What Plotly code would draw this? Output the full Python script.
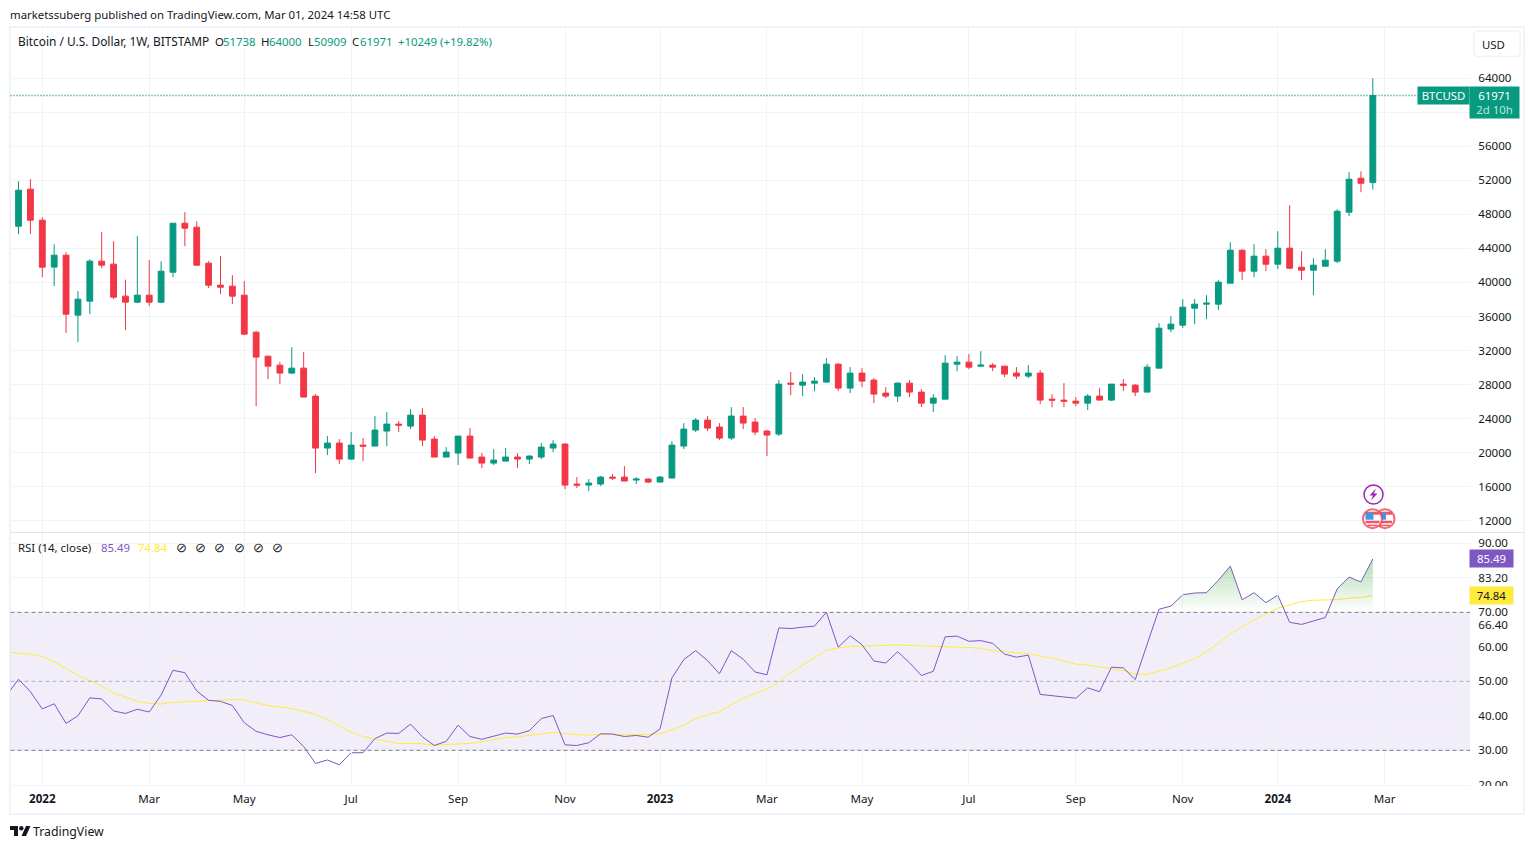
import pandas as pd
import plotly.graph_objects as go

W, H = 1534, 849
FONT = "Noto Sans"
FONT_SIZE = 11.4
TEXT = "#131722"
UP = "#089981"
DOWN = "#F23645"
GRID = "#F0F3FA"
RSI_COL = "#7E57C2"
MA_COL = "#FFEB3B"

# weekly candles, first one is clipped by the left edge
weeks = pd.date_range("2021-12-13", periods=116, freq="7D")

opens = [50100, 46610, 50960, 47315, 41800, 43200, 36150, 37800, 42500, 42145, 38385, 37680,
         38500, 37680, 41200, 46960, 46490, 42265, 39680, 39560, 38500, 34155, 31335, 30275,
         29340, 29925, 26635, 20525, 21110, 19230, 20875, 20760, 22525, 23345, 23110, 24400,
         21580, 19470, 19940, 21935, 19470, 18760, 18995, 19470, 19230, 19470, 20525, 20995,
         16295, 16175, 16295, 17115, 17115, 16765, 16880, 16530, 17000, 20760, 22640, 23815,
         22995, 21700, 24285, 23580, 22525, 22170, 28160, 27925, 28160, 28280, 30395, 27575,
         29340, 28515, 26990, 26635, 28160, 27105, 25810, 26280, 30395, 30630, 30160, 30275,
         30160, 29340, 28985, 29340, 26280, 26165, 26045, 25810, 26635, 26165, 28045, 27925,
         27105, 29925, 34510, 34975, 36975, 37445, 37445, 39910, 43790, 41320, 43085, 42145,
         44025, 41790, 41440, 41910, 42500, 48255, 52250, 51738]
highs = [50100, 51897, 52130, 47670, 44490, 43555, 38970, 42730, 45905, 44850, 40320, 45435,
         42615, 42500, 46960, 48255, 47200, 42500, 43085, 40850, 40150, 34280, 31335, 30630,
         32390, 31800, 26870, 21935, 21580, 22405, 21700, 24285, 24755, 23700, 25110, 25225,
         21935, 20640, 21935, 22875, 19940, 20405, 20525, 19940, 19700, 21110, 21465, 21110,
         17115, 16880, 17235, 17470, 18410, 17115, 17000, 17235, 21350, 23465, 24050, 24285,
         23465, 25340, 25340, 24050, 22640, 28515, 29460, 29220, 28870, 31100, 30510, 30040,
         29925, 28750, 27690, 28280, 28515, 27455, 26870, 31450, 31335, 31570, 31925, 30510,
         30160, 30040, 30275, 29690, 26870, 28160, 26520, 26870, 27575, 28045, 28630, 28045,
         30395, 35215, 36035, 38030, 38030, 38500, 40265, 44730, 43910, 44490, 43910, 46020,
         49080, 43675, 42850, 43910, 48610, 52955, 53070, 64000]
lows = [46560, 45670, 45670, 40620, 39560, 34070, 32980, 36270, 41675, 38030, 34390, 37560,
        37210, 37560, 40620, 44260, 41910, 39325, 38620, 37445, 33800, 25460, 28630, 28045,
        29220, 26520, 17590, 19700, 18645, 19115, 18995, 20760, 20760, 22405, 22760, 20760,
        19470, 19470, 18530, 19350, 18175, 18530, 18995, 18175, 18645, 19230, 20055, 15700,
        15825, 15475, 16060, 16765, 16650, 16295, 16410, 16530, 17000, 20405, 22405, 22525,
        21465, 21465, 22760, 22055, 19585, 21935, 26750, 26635, 27220, 28280, 27220, 26990,
        27690, 25810, 26400, 25930, 26520, 25340, 24755, 26280, 29570, 29805, 30040, 29570,
        28870, 28630, 28750, 25695, 25340, 25340, 25460, 24990, 26165, 26045, 27220, 26635,
        27105, 29925, 34155, 34625, 35095, 35680, 36740, 39910, 40265, 40620, 41320, 41560,
        41560, 40265, 38500, 41910, 42265, 47785, 50605, 50909]
closes = [46610, 50840, 47315, 41790, 43200, 36270, 38030, 42500, 42030, 38270, 37680, 38500,
          37680, 41320, 46960, 46375, 42030, 39680, 39440, 38385, 33920, 31220, 30160, 29340,
          29925, 26520, 20525, 21110, 19230, 20875, 20760, 22640, 23345, 23230, 24400, 21465,
          19470, 20055, 21935, 19350, 18760, 19115, 19470, 19230, 19585, 20640, 20995, 16175,
          16175, 16410, 17115, 17000, 16650, 16880, 16530, 17115, 20875, 22760, 23815, 22875,
          21700, 24285, 23465, 22405, 22055, 28045, 28045, 28280, 28400, 30395, 27575, 29340,
          28400, 26870, 26635, 28160, 27105, 25810, 26400, 30510, 30630, 30040, 30275, 30040,
          29220, 28985, 29340, 26165, 26165, 26045, 25810, 26635, 26165, 28045, 27925, 27105,
          30040, 34625, 35095, 37090, 37445, 37560, 40030, 43790, 41320, 43085, 42145, 44025,
          41675, 41440, 42030, 42615, 48370, 52130, 51660, 61971]
change_text = "+10249 (+19.82%)"

rsi = [46.0, 50.6, 47.0, 42.0, 43.5, 37.8, 40.0, 45.2, 44.9, 41.4, 40.7, 41.9, 41.1, 46.0, 53.2,
       52.5, 47.2, 44.5, 44.2, 43.0, 38.0, 35.5, 34.5, 33.7, 34.5, 31.1, 26.2, 27.2, 25.8, 29.3,
       29.3, 33.4, 35.0, 34.9, 37.6, 33.9, 31.4, 32.6, 37.3, 34.0, 33.2, 34.0, 35.0, 34.7, 35.7,
       39.2, 40.1, 31.6, 31.4, 32.2, 34.8, 34.7, 34.0, 34.3, 33.8, 36.2, 51.0, 56.3, 58.9, 56.0,
       52.2, 58.9, 56.4, 52.7, 51.9, 65.5, 65.3, 65.7, 66.0, 70.0, 59.9, 63.2, 60.6, 55.9, 55.3,
       58.6, 55.4, 51.7, 52.9, 62.9, 63.1, 61.6, 61.8, 61.0, 57.9, 57.0, 57.6, 46.2, 45.8, 45.5,
       45.1, 48.1, 47.0, 54.1, 53.9, 50.5, 61.0, 70.9, 71.8, 75.1, 75.6, 75.7, 79.3, 83.4, 73.6,
       75.7, 72.8, 75.0, 67.1, 66.5, 67.5, 68.5, 76.8, 80.2, 78.8, 85.49]
rsi_ma = [58.6, 58.1, 57.9, 57.1, 55.7, 53.7, 51.7, 50.3, 48.6, 46.6, 45.3, 44.2, 43.6, 43.4, 43.9,
          44.1, 44.1, 44.3, 44.5, 44.7, 44.6, 43.8, 43.0, 42.6, 42.1, 41.3, 40.4, 39.0, 37.0, 35.3,
          34.0, 33.2, 32.6, 32.0, 32.0, 31.9, 31.5, 31.6, 31.8, 32.0, 32.5, 33.0, 33.7, 33.9, 34.4,
          34.9, 35.2, 34.9, 34.5, 34.4, 34.6, 34.7, 34.5, 34.5, 34.6, 34.8, 35.9, 37.3, 39.2, 40.3,
          41.2, 43.2, 45.1, 46.5, 47.7, 49.9, 52.5, 54.7, 56.8, 59.0, 59.7, 60.1, 60.2, 60.3, 60.5,
          60.5, 60.4, 60.3, 60.3, 60.1, 60.0, 59.8, 59.6, 58.9, 58.6, 58.2, 58.0, 57.3, 56.7, 55.8,
          55.0, 54.7, 54.3, 53.7, 53.1, 52.2, 52.0, 53.0, 53.9, 55.2, 56.5, 58.6, 61.0, 63.8, 65.8,
          67.8, 69.5, 71.2, 72.1, 73.1, 73.5, 73.5, 73.7, 74.1, 74.3, 74.84]

month_ticks = ["2022-01-03", "2022-03-07", "2022-05-02", "2022-07-04", "2022-09-05", "2022-11-07",
               "2023-01-02", "2023-03-06", "2023-05-01", "2023-07-03", "2023-09-04", "2023-11-06",
               "2024-01-01", "2024-03-04"]
month_labels = ["<b>2022</b>", "Mar", "May", "Jul", "Sep", "Nov", "<b>2023</b>", "Mar", "May", "Jul",
                "Sep", "Nov", "<b>2024</b>", "Mar"]
price_ticks = list(range(12000, 68000, 4000))
# 60000 sits under the last price tag, its label is not shown
price_labels = ["" if v == 60000 else str(v) for v in price_ticks]
rsi_ticks = [20, 30, 40, 50, 60, 66.4, 70, 80, 90]
rsi_tick_labels = ["20.00", "30.00", "40.00", "50.00", "60.00", "66.40", "70.00", "83.20", "90.00"]
rsi_grid = [20, 30, 40, 50, 60, 70, 80, 90]

X_RANGE = ["2021-12-15 06:14", "2024-04-23 06:14"]
PRICE_RANGE = [10660, 69910]
RSI_RANGE = [19.8, 93.0]


def fx(px):
    return px / W


def fy(py):
    return 1 - py / H


def rsi_frac(v):
    return (v - RSI_RANGE[0]) / (RSI_RANGE[1] - RSI_RANGE[0])


# pane pixel edges
LEFT, RIGHT = 10.5, 1470
MAIN_TOP, MAIN_BOT = 28, 532
RSI_TOP, RSI_BOT = 533, 785.5
rsi_h = RSI_BOT - RSI_TOP
rsi_bot_paper = fy(RSI_BOT)
rsi_top_paper = fy(RSI_TOP)
level_70 = rsi_bot_paper + rsi_frac(70) * rsi_h / H
level_30 = rsi_bot_paper + rsi_frac(30) * rsi_h / H

fig = go.Figure()

fig.add_trace(go.Candlestick(
    x=weeks, open=opens, high=highs, low=lows, close=closes,
    increasing=dict(line=dict(color=UP, width=1), fillcolor=UP),
    decreasing=dict(line=dict(color=DOWN, width=1), fillcolor=DOWN),
    showlegend=False, xaxis="x", yaxis="y",
))

# fill above 70, y3 only covers the part of the pane above the level
fig.add_trace(go.Scatter(
    x=weeks, y=rsi, mode="none", fill="tozeroy", xaxis="x2", yaxis="y3", showlegend=False,
    hoverinfo="skip",
    fillgradient=dict(type="vertical", start=85.5, stop=70,
                      colorscale=[[0, "rgba(76,175,80,0.42)"], [1, "rgba(76,175,80,0)"]]),
))
# fill below 30, same idea with y4
fig.add_trace(go.Scatter(x=weeks, y=[95] * len(weeks), mode="none", xaxis="x2", yaxis="y4",
                         showlegend=False, hoverinfo="skip"))
fig.add_trace(go.Scatter(x=weeks, y=rsi, mode="none", fill="tonexty", fillcolor="rgba(242,54,69,0.08)",
                         xaxis="x2", yaxis="y4", showlegend=False, hoverinfo="skip"))

fig.add_trace(go.Scatter(x=weeks, y=rsi_ma, mode="lines", line=dict(color=MA_COL, width=1),
                         xaxis="x2", yaxis="y2", showlegend=False))
fig.add_trace(go.Scatter(x=weeks, y=rsi, mode="lines", line=dict(color=RSI_COL, width=1),
                         xaxis="x2", yaxis="y2", showlegend=False))


def box(x0, y0, x1, y1, **kw):
    return dict(type="rect", xref="paper", yref="paper", x0=fx(x0), x1=fx(x1), y0=fy(y0), y1=fy(y1), **kw)


def circle(cx, cy, r, **kw):
    return dict(type="circle", xref="paper", yref="paper", x0=fx(cx - r), x1=fx(cx + r),
                y0=fy(cy - r), y1=fy(cy + r), **kw)


def poly(points, **kw):
    path = "M " + " L ".join(f"{fx(a):.5f},{fy(b):.5f}" for a, b in points) + " Z"
    return dict(type="path", xref="paper", yref="paper", path=path, **kw)


def rounded(x0, y0, x1, y1, r, **kw):
    p = (f"M {fx(x0 + r):.5f},{fy(y0):.5f} L {fx(x1 - r):.5f},{fy(y0):.5f} "
         f"Q {fx(x1):.5f},{fy(y0):.5f} {fx(x1):.5f},{fy(y0 + r):.5f} L {fx(x1):.5f},{fy(y1 - r):.5f} "
         f"Q {fx(x1):.5f},{fy(y1):.5f} {fx(x1 - r):.5f},{fy(y1):.5f} L {fx(x0 + r):.5f},{fy(y1):.5f} "
         f"Q {fx(x0):.5f},{fy(y1):.5f} {fx(x0):.5f},{fy(y1 - r):.5f} L {fx(x0):.5f},{fy(y0 + r):.5f} "
         f"Q {fx(x0):.5f},{fy(y0):.5f} {fx(x0 + r):.5f},{fy(y0):.5f} Z")
    return dict(type="path", xref="paper", yref="paper", path=p, **kw)


def flag(cx, cy):
    stroke = dict(color="rgba(242,54,69,0.75)", width=2)
    return [
        circle(cx, cy, 9.5, fillcolor="white", line=stroke, layer="above"),
        box(cx - 7, cy + 2, cx + 7, cy + 4.5, fillcolor="#F7525F", line_width=0, layer="above"),
        box(cx - 5, cy + 6, cx + 5, cy + 7.5, fillcolor="#F7525F", line_width=0, layer="above"),
        box(cx - 7, cy - 7, cx + 7, cy - 4, fillcolor="#F7525F", line_width=0, layer="above"),
        box(cx - 7, cy - 6, cx + 1, cy + 1, fillcolor="#3D9AE8", line_width=0, layer="above"),
    ]


shapes = [
    # chart frame and pane separator
    box(10, 27, 1524, 814, line=dict(color=GRID, width=2), fillcolor="rgba(0,0,0,0)", layer="below"),
    dict(type="line", xref="paper", yref="paper", x0=fx(10), x1=fx(1523), y0=fy(532.5), y1=fy(532.5),
         line=dict(color="#E0E3EB", width=1)),
    dict(type="line", xref="paper", yref="paper", x0=fx(LEFT), x1=fx(RIGHT), y0=fy(RSI_BOT), y1=fy(RSI_BOT),
         line=dict(color=GRID, width=1)),
    # RSI band and levels
    dict(type="rect", xref="x2 domain", yref="y2", x0=0, x1=1, y0=30, y1=70,
         fillcolor="rgba(126,87,194,0.1)", line_width=0, layer="below"),
    dict(type="line", xref="x2 domain", yref="y2", x0=0, x1=1, y0=70, y1=70,
         line=dict(color="#787B86", width=1, dash="4px,3px")),
    dict(type="line", xref="x2 domain", yref="y2", x0=0, x1=1, y0=50, y1=50,
         line=dict(color="rgba(120,123,134,0.55)", width=1, dash="4px,3px")),
    dict(type="line", xref="x2 domain", yref="y2", x0=0, x1=1, y0=30, y1=30,
         line=dict(color="#787B86", width=1, dash="4px,3px")),
    # last price line
    dict(type="line", xref="x domain", yref="y", x0=0, x1=1, y0=closes[-1], y1=closes[-1],
         line=dict(color=UP, width=1.4, dash="1px,2px")),
    # hides the bottom half of the 20.00 label
    box(1471, 786, 1522, 812, fillcolor="white", line_width=0, layer="above"),
    rounded(1474, 31, 1520, 56.5, 4, fillcolor="white", line=dict(color=GRID, width=1.5), layer="above"),
    # event icons
    circle(1373.5, 494.5, 9.5, fillcolor="white", line=dict(color="#9C27B0", width=1.5), layer="above"),
    poly([(1376, 488.5), (1369.5, 495.5), (1373, 495.5), (1371, 500.5), (1377.5, 493.5), (1374, 493.5)],
         fillcolor="#9C27B0", line_width=0, layer="above"),
    # TradingView logo
    poly([(10, 826), (18, 826), (18, 836), (14, 836), (14, 830), (10, 830)], fillcolor=TEXT, line_width=0),
    circle(21.3, 828.3, 2.2, fillcolor=TEXT, line_width=0),
    poly([(26, 826), (30.5, 826), (26, 836), (21.5, 836)], fillcolor=TEXT, line_width=0),
]
shapes += flag(1385, 518.7) + flag(1372.5, 518.7)


def label(text, px, py, size=FONT_SIZE, color=TEXT, anchor="left", **kw):
    # annotations carry about 2px of padding on the left
    if anchor == "left":
        px -= 2
    return dict(text=text, xref="paper", yref="paper", x=fx(px), y=fy(py), xanchor=anchor, yanchor="middle",
                showarrow=False, font=dict(family=FONT, size=size, color=color), **kw)


header = [
    ("O", 215, TEXT), (str(opens[-1]), 223, UP),
    ("H", 261, TEXT), (str(highs[-1]), 269, UP),
    ("L", 308, TEXT), (str(lows[-1]), 314, UP),
    ("C", 352, TEXT), (str(closes[-1]), 360, UP),
    (change_text, 398, UP),
]
annotations = [
    label("marketssuberg published on TradingView.com, Mar 01, 2024 14:58 UTC", 10, 14),
    label("Bitcoin / U.S. Dollar, 1W, BITSTAMP", 18, 41, size=11.9),
]
annotations += [label(t, x, 41, color=c) for t, x, c in header]
annotations += [
    label("RSI (14, close)", 18, 547),
    label(f"{rsi[-1]:.2f}", 101, 547, color=RSI_COL),
    label(f"{rsi_ma[-1]:.2f}", 138, 547, color=MA_COL),
]
annotations += [label("⊘", x, 547, anchor="center", size=13) for x in [181, 200, 219, 239, 258, 277]]
annotations += [
    label("TradingView", 33, 831, size=12.3),
    label("USD", 1493, 44, anchor="center"),
    label("BTCUSD", 1443.5, 95.5, color="white", anchor="center", bgcolor=UP, width=51, height=17, borderpad=0),
    label(f"{closes[-1]}<br><span style='color:#BFE6DF'>2d 10h</span>", 1494.5, 102.5, color="white",
          anchor="center", bgcolor=UP, width=49, height=31, borderpad=0),
    label(f"{rsi[-1]:.2f}", 1491.5, 558.5, color="white", anchor="center", bgcolor=RSI_COL,
          width=43, height=17, borderpad=0),
    label(f"{rsi_ma[-1]:.2f}", 1491.5, 595.5, color=TEXT, anchor="center", bgcolor=MA_COL,
          width=43, height=17, borderpad=0),
]

tick_font = dict(family=FONT, size=11.6, color=TEXT)
x_common = dict(type="date", range=X_RANGE, tickmode="array", tickvals=month_ticks, showgrid=True,
                gridcolor=GRID, gridwidth=1, zeroline=False, showline=False, rangeslider=dict(visible=False))

fig.update_layout(
    width=W, height=H,
    margin=dict(l=0, r=0, t=0, b=0, autoexpand=False),
    paper_bgcolor="white", plot_bgcolor="rgba(0,0,0,0)",
    font=dict(family=FONT, size=FONT_SIZE, color=TEXT),
    showlegend=False,
    boxgap=0.3,
    xaxis=dict(domain=[fx(LEFT), fx(RIGHT)], anchor="y", showticklabels=False, ticks="", **x_common),
    xaxis2=dict(domain=[fx(LEFT), fx(RIGHT)], anchor="y2", ticktext=month_labels, ticks="outside",
                ticklen=3, tickcolor="white", tickfont=tick_font, **x_common),
    yaxis=dict(domain=[fy(MAIN_BOT), fy(MAIN_TOP)], anchor="x", side="right", range=PRICE_RANGE,
               tickmode="array", tickvals=price_ticks, ticktext=price_labels,
               gridcolor=GRID, zeroline=False, ticks="outside", ticklen=5, tickcolor="white", tickfont=tick_font),
    yaxis2=dict(domain=[rsi_bot_paper, rsi_top_paper], anchor="x2", side="right", range=RSI_RANGE,
                tickmode="array", tickvals=rsi_ticks, ticktext=rsi_tick_labels, showgrid=False,
                minor=dict(tickmode="array", tickvals=rsi_grid, showgrid=True, gridcolor=GRID, ticks=""),
                zeroline=False, ticks="outside", ticklen=5, tickcolor="white", tickfont=tick_font),
    yaxis3=dict(domain=[level_70, rsi_top_paper], anchor="x2", range=[70, RSI_RANGE[1]], visible=False),
    yaxis4=dict(domain=[rsi_bot_paper, level_30], anchor="x2", range=[RSI_RANGE[0], 30], visible=False),
    shapes=shapes,
    annotations=annotations,
)

fig.write_html("out.html", config=dict(displayModeBar=False), post_script="document.body.style.margin='0';")
